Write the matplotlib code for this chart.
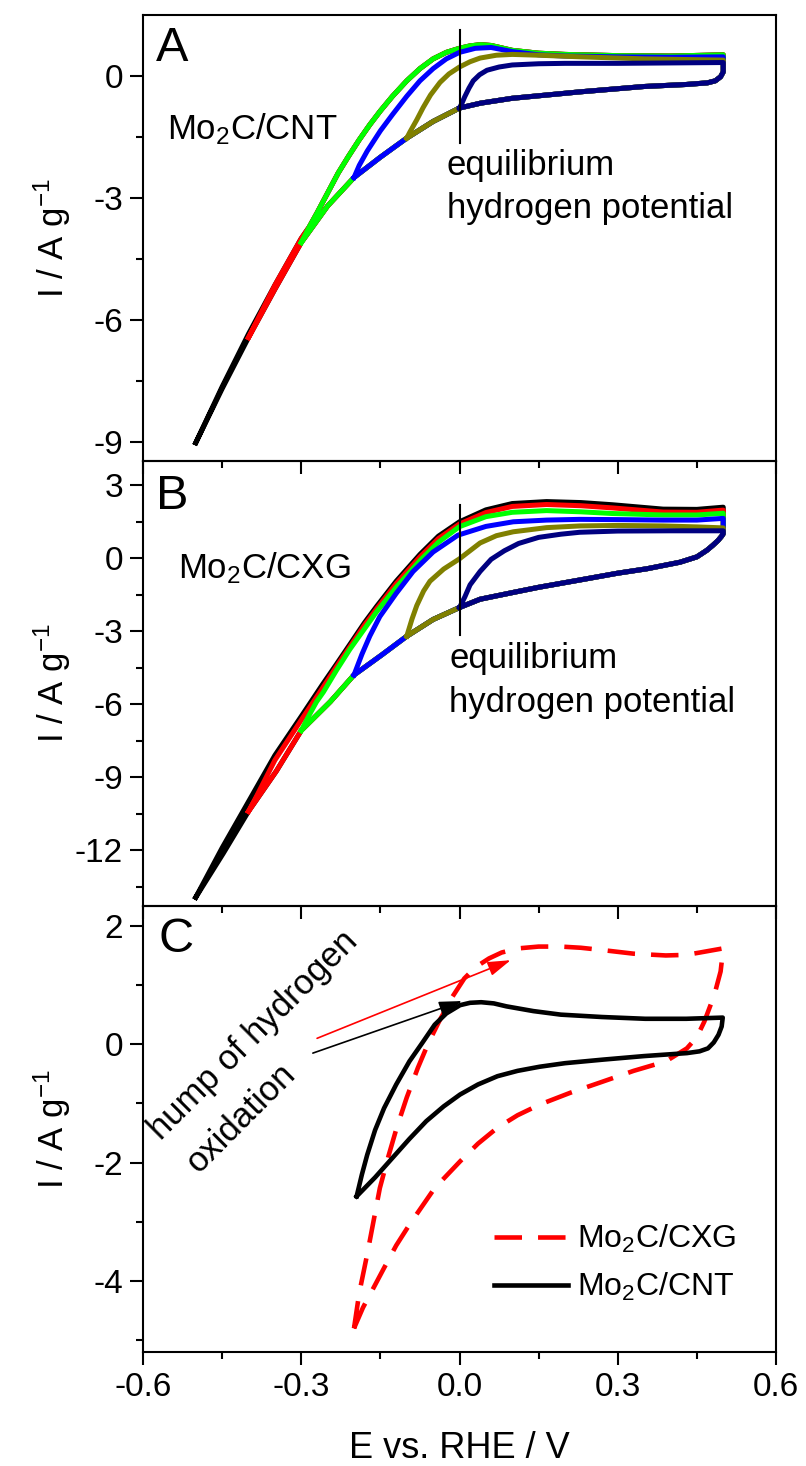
import matplotlib
matplotlib.use("Agg")
import matplotlib.pyplot as plt

plt.rcParams['font.family'] = ['Liberation Sans', 'DejaVu Sans']
plt.rcParams['mathtext.fontset'] = 'custom'
plt.rcParams['mathtext.rm'] = 'Liberation Sans'
plt.rcParams['mathtext.it'] = 'Liberation Sans:italic'
plt.rcParams['mathtext.default'] = 'regular'
plt.rcParams['axes.unicode_minus'] = False

# ---------------- panel A : Mo2C/CNT, CVs with different lower limits ----------------
A_low_E = [0.50, 0.50, 0.495, 0.485, 0.47, 0.43, 0.35, 0.23, 0.10, 0.04, 0.00, -0.05, -0.10,
           -0.15, -0.20, -0.25, -0.30, -0.35, -0.40, -0.45, -0.50]
A_low_I = [0.30, 0.10, -0.02, -0.12, -0.17, -0.21, -0.26, -0.39, -0.55, -0.67, -0.79, -1.12, -1.53,
           -2.0, -2.5, -3.2, -4.1, -5.25, -6.44, -7.7, -9.03]

A_black_E = [-0.50, -0.45, -0.40, -0.35, -0.30, -0.285, -0.27, -0.25, -0.23, -0.21, -0.19, -0.17, -0.15,
             -0.127, -0.10, -0.075, -0.05, -0.025, 0.0, 0.02, 0.04, 0.06, 0.10, 0.15, 0.20, 0.30, 0.40, 0.50]
A_black_I = [-9.03, -7.65, -6.35, -5.15, -4.0, -3.72, -3.37, -2.88, -2.39, -1.97, -1.57, -1.2, -0.86,
             -0.5, -0.12, 0.18, 0.42, 0.58, 0.68, 0.74, 0.77, 0.75, 0.63, 0.56, 0.53, 0.50, 0.49, 0.52]
A_red_E = [-0.40, -0.35, -0.30, -0.285, -0.27, -0.25, -0.23, -0.21, -0.19, -0.17, -0.15,
           -0.127, -0.10, -0.075, -0.05, -0.025, 0.0, 0.02, 0.04, 0.06, 0.10, 0.15, 0.20, 0.30, 0.40, 0.50]
A_red_I = [-6.44, -5.15, -4.0, -3.72, -3.37, -2.88, -2.39, -1.97, -1.57, -1.2, -0.86,
           -0.5, -0.12, 0.18, 0.42, 0.58, 0.68, 0.74, 0.77, 0.75, 0.63, 0.56, 0.53, 0.50, 0.49, 0.52]
A_green_E = [-0.30, -0.285, -0.27, -0.25, -0.23, -0.21, -0.19, -0.17, -0.15,
             -0.127, -0.10, -0.075, -0.05, -0.025, 0.0, 0.02, 0.04, 0.06, 0.10, 0.15, 0.20, 0.30, 0.40, 0.50]
A_green_I = [-4.1, -3.72, -3.37, -2.88, -2.39, -1.97, -1.57, -1.2, -0.86,
             -0.5, -0.12, 0.18, 0.42, 0.58, 0.68, 0.74, 0.77, 0.75, 0.63, 0.56, 0.53, 0.50, 0.49, 0.52]
A_blue_E = [-0.20, -0.19, -0.175, -0.15, -0.127, -0.10, -0.075, -0.05, -0.025, 0.0, 0.03, 0.06,
            0.10, 0.15, 0.20, 0.30, 0.40, 0.50]
A_blue_I = [-2.5, -2.2, -1.85, -1.35, -0.95, -0.5, -0.12, 0.18, 0.42, 0.58, 0.68, 0.70,
            0.60, 0.52, 0.49, 0.47, 0.46, 0.47]
A_olive_E = [-0.10, -0.094, -0.081, -0.069, -0.055, -0.037, -0.02, 0.0, 0.02, 0.039, 0.07, 0.10,
             0.15, 0.23, 0.35, 0.50]
A_olive_I = [-1.53, -1.38, -1.08, -0.78, -0.47, -0.16, 0.05, 0.22, 0.35, 0.44, 0.51, 0.53,
             0.51, 0.47, 0.42, 0.39]
A_navy_E = [0.0, 0.005, 0.01, 0.018, 0.026, 0.038, 0.052, 0.075, 0.10, 0.15, 0.20, 0.30, 0.40, 0.50]
A_navy_I = [-0.79, -0.66, -0.51, -0.30, -0.12, 0.03, 0.14, 0.22, 0.27, 0.30, 0.31, 0.31, 0.32, 0.33]

# ---------------- panel B : Mo2C/CXG ----------------
B_low_E = [0.50, 0.497, 0.49, 0.48, 0.469, 0.45, 0.418, 0.355, 0.30, 0.228, 0.15, 0.102, 0.039, 0.00,
           -0.05, -0.10, -0.147, -0.20, -0.245, -0.30, -0.347, -0.40, -0.448, -0.50]
B_low_I = [1.0, 0.9, 0.72, 0.52, 0.32, 0.05, -0.17, -0.44, -0.62, -0.9, -1.2, -1.41, -1.69, -2.03,
           -2.52, -3.21, -3.97, -4.8, -5.9, -7.08, -8.74, -10.4, -12.13, -13.93]

B_black_E = [-0.50, -0.45, -0.40, -0.35, -0.30, -0.26, -0.233, -0.208, -0.18, -0.157, -0.12, -0.075,
             -0.04, 0.0, 0.05, 0.10, 0.165, 0.23, 0.29, 0.386, 0.45, 0.50]
B_black_I = [-13.93, -11.9, -10.0, -8.1, -6.5, -5.2, -4.35, -3.55, -2.65, -1.98, -0.95, 0.15,
             0.9, 1.49, 1.98, 2.24, 2.32, 2.28, 2.19, 2.01, 2.0, 2.09]
B_red_E = [-0.40, -0.384, -0.35, -0.30, -0.26, -0.233, -0.208, -0.18, -0.157, -0.12, -0.075,
           -0.04, 0.0, 0.05, 0.10, 0.165, 0.23, 0.29, 0.386, 0.45, 0.50]
B_red_I = [-10.4, -9.75, -8.3, -6.65, -5.35, -4.45, -3.65, -2.75, -2.08, -1.05, 0.05,
           0.8, 1.4, 1.87, 2.12, 2.2, 2.15, 2.06, 1.89, 1.88, 1.97]
B_green_E = [-0.30, -0.285, -0.271, -0.258, -0.233, -0.208, -0.18, -0.157, -0.12, -0.075, -0.04,
             0.0, 0.05, 0.10, 0.165, 0.23, 0.29, 0.386, 0.45, 0.50]
B_green_I = [-7.08, -6.45, -5.9, -5.5, -4.6, -3.75, -2.9, -2.2, -1.2, -0.1, 0.65,
             1.29, 1.7, 1.88, 1.95, 1.9, 1.83, 1.77, 1.77, 1.84]
B_blue_E = [-0.20, -0.185, -0.17, -0.151, -0.12, -0.088, -0.05, -0.003, 0.05, 0.102, 0.165, 0.228,
            0.30, 0.386, 0.45, 0.50]
B_blue_I = [-4.8, -3.95, -3.2, -2.4, -1.45, -0.55, 0.25, 0.94, 1.3, 1.49, 1.56, 1.59,
            1.58, 1.56, 1.56, 1.63]
B_olive_E = [-0.10, -0.09, -0.081, -0.068, -0.056, -0.03, 0.0, 0.039, 0.07, 0.102, 0.165, 0.228,
             0.30, 0.386, 0.45, 0.50]
B_olive_I = [-3.21, -2.5, -1.95, -1.35, -0.95, -0.45, -0.03, 0.62, 0.92, 1.08, 1.25, 1.32,
             1.34, 1.32, 1.28, 1.24]
B_navy_E = [0.0, 0.01, 0.02, 0.039, 0.06, 0.085, 0.112, 0.15, 0.192, 0.228, 0.30, 0.40, 0.50]
B_navy_I = [-2.03, -1.6, -1.1, -0.55, -0.05, 0.3, 0.6, 0.85, 0.98, 1.06, 1.11, 1.12, 1.12]

# ---------------- panel C : comparison, lower limit -0.2 V ----------------
C_cxg_E = [-0.20, -0.19, -0.175, -0.151, -0.135, -0.119, -0.10, -0.079, -0.06, -0.039, -0.015, 0.009,
           0.03, 0.056, 0.08, 0.112, 0.15, 0.192, 0.23, 0.272, 0.33, 0.391, 0.43, 0.456, 0.50,
           0.495, 0.483, 0.464, 0.45, 0.431, 0.391, 0.33, 0.272, 0.21, 0.152, 0.11, 0.072, 0.035,
           0.001, -0.047, -0.095, -0.12, -0.143, -0.165, -0.183, -0.20]
C_cxg_I = [-4.8, -4.2, -3.55, -2.43, -1.9, -1.41, -0.9, -0.40, 0.0, 0.38, 0.78, 1.11,
           1.3, 1.45, 1.55, 1.62, 1.65, 1.65, 1.63, 1.59, 1.53, 1.50, 1.51, 1.55, 1.62,
           1.23, 0.83, 0.38, 0.12, -0.07, -0.29, -0.45, -0.63, -0.82, -1.02, -1.2, -1.41, -1.68,
           -1.98, -2.43, -3.05, -3.4, -3.78, -4.15, -4.45, -4.8]
C_cnt_E = [-0.195, -0.185, -0.175, -0.16, -0.143, -0.12, -0.095, -0.07, -0.047, -0.025, 0.001, 0.02,
           0.041, 0.065, 0.089, 0.14, 0.192, 0.27, 0.352, 0.43, 0.499,
           0.497, 0.491, 0.482, 0.471, 0.455, 0.431, 0.35, 0.272, 0.20, 0.152, 0.11, 0.072, 0.035,
           0.001, -0.03, -0.063, -0.095, -0.127, -0.16, -0.195]
C_cnt_I = [-2.57, -2.2, -1.87, -1.45, -1.08, -0.68, -0.29, 0.03, 0.33, 0.52, 0.66, 0.70,
           0.71, 0.69, 0.64, 0.56, 0.50, 0.46, 0.43, 0.43, 0.45,
           0.30, 0.16, 0.03, -0.07, -0.12, -0.15, -0.20, -0.26, -0.32, -0.38, -0.45, -0.54, -0.68,
           -0.85, -1.05, -1.30, -1.6, -1.92, -2.25, -2.57]

cv_colors = ['black', '#ff0000', '#00ff00', '#0000ff', '#808000', '#000080']
lower_limits = [-0.5, -0.4, -0.3, -0.2, -0.1, 0.0]

x_ticks = [-0.6, -0.3, 0.0, 0.3, 0.6]
x_ticklabels = ['-0.6', '-0.3', '0.0', '0.3', '0.6']
x_minor = [-0.45, -0.15, 0.15, 0.45]
A_yticks = [0, -3, -6, -9]
A_yminor = [-1.5, -4.5, -7.5]
B_yticks = [3, 0, -3, -6, -9, -12]
B_yminor = [1.5, -1.5, -4.5, -7.5, -10.5, -13.5]
C_yticks = [2, 0, -2, -4]
C_yminor = [1, -1, -3, -5]

ylab = 'I / A g$^{-1}$'
FS_TICK = 24
FS_TEXT = 25
LW = 3.6

fig = plt.figure(figsize=(8.06, 14.66), dpi=100)
left, width = 143 / 806, 633 / 806
top, bottom = 1 - 15 / 1466, 1 - 1352 / 1466
h = (top - bottom) / 3
axA = fig.add_axes([left, bottom + 2 * h, width, h])
axB = fig.add_axes([left, bottom + h, width, h])
axC = fig.add_axes([left, bottom, width, h])


def style(ax, yt, ym, ylim, show_x):
    ax.patch.set_visible(False)
    ax.set_xlim(-0.6, 0.6)
    ax.set_ylim(*ylim)
    ax.set_xticks(x_ticks)
    ax.set_xticks(x_minor, minor=True)
    ax.set_yticks(yt)
    ax.set_yticklabels([str(v) for v in yt])
    ax.set_yticks(ym, minor=True)
    if show_x:
        ax.set_xticklabels(x_ticklabels)
    else:
        ax.set_xticklabels([])
    ax.tick_params(which='both', direction='out', top=False, right=False, width=1.5,
                   labelsize=FS_TICK, pad=5)
    ax.tick_params(which='major', length=9.5)
    ax.tick_params(which='minor', length=5)
    for s in ax.spines.values():
        s.set_linewidth(1.5)
    ax.set_ylabel(ylab, fontsize=FS_TEXT)
    ax.yaxis.set_label_coords(-0.11, 0.5)


def draw_cvs(ax, low_E, low_I, uppers):
    for (uE, uI), emin, c in zip(uppers, lower_limits, cv_colors):
        lE = [e for e in low_E if e >= emin - 1e-9]
        lI = [i for e, i in zip(low_E, low_I) if e >= emin - 1e-9]
        ax.plot(list(uE) + lE, list(uI) + lI, color=c, lw=LW, solid_joinstyle='round')


# panel A
draw_cvs(axA, A_low_E, A_low_I,
         [(A_black_E, A_black_I), (A_red_E, A_red_I), (A_green_E, A_green_I),
          (A_blue_E, A_blue_I), (A_olive_E, A_olive_I), (A_navy_E, A_navy_I)])
axA.plot([0, 0], [-1.65, 1.13], color='black', lw=1.5)
axA.text(-0.554, -1.57, 'Mo$_2$C/CNT', fontsize=FS_TEXT, ha='left', va='baseline')
axA.text(-0.024, -2.43, 'equilibrium', fontsize=FS_TEXT, ha='left', va='baseline')
axA.text(-0.024, -3.49, 'hydrogen potential', fontsize=FS_TEXT, ha='left', va='baseline')
axA.text(0.02, 0.975, 'A', transform=axA.transAxes, fontsize=35, ha='left', va='top')
style(axA, A_yticks, A_yminor, (-9.47, 1.5), False)

# panel B
draw_cvs(axB, B_low_E, B_low_I,
         [(B_black_E, B_black_I), (B_red_E, B_red_I), (B_green_E, B_green_I),
          (B_blue_E, B_blue_I), (B_olive_E, B_olive_I), (B_navy_E, B_navy_I)])
axB.plot([0, 0], [-3.14, 2.19], color='black', lw=1.5)
axB.text(-0.534, -0.84, 'Mo$_2$C/CXG', fontsize=FS_TEXT, ha='left', va='baseline')
axB.text(-0.019, -4.52, 'equilibrium', fontsize=FS_TEXT, ha='left', va='baseline')
axB.text(-0.019, -6.32, 'hydrogen potential', fontsize=FS_TEXT, ha='left', va='baseline')
axB.text(0.02, 0.97, 'B', transform=axB.transAxes, fontsize=35, ha='left', va='top')
style(axB, B_yticks, B_yminor, (-14.3, 4.0), False)

# panel C
axC.plot(C_cxg_E, C_cxg_I, color='#ff0000', lw=3.3, dashes=(6, 3.5), label='Mo$_2$C/CXG')
axC.plot(C_cnt_E, C_cnt_I, color='black', lw=3.3, solid_joinstyle='round', label='Mo$_2$C/CNT')
axC.annotate('', xy=(0.097, 1.42), xytext=(-0.27, 0.10),
             arrowprops=dict(arrowstyle='-|>,head_length=0.7,head_width=0.22', color='#ff0000',
                             lw=1.2, mutation_scale=20, shrinkA=0, shrinkB=0))
axC.annotate('', xy=(0.005, 0.73), xytext=(-0.278, -0.15),
             arrowprops=dict(arrowstyle='-|>,head_length=0.7,head_width=0.22', color='black',
                             lw=1.2, mutation_scale=20, shrinkA=0, shrinkB=0))
axC.text(-0.566, -1.64, 'hump of hydrogen', fontsize=FS_TEXT, rotation=45,
         rotation_mode='anchor', ha='left', va='baseline')
axC.text(-0.494, -2.2, 'oxidation', fontsize=FS_TEXT, rotation=45,
         rotation_mode='anchor', ha='left', va='baseline')
axC.text(0.025, 0.975, 'C', transform=axC.transAxes, fontsize=35, ha='left', va='top')
axC.legend(loc='upper left', bbox_to_anchor=(0.555, 0.29), frameon=False, fontsize=23,
           handlelength=2.3, handletextpad=0.3, labelspacing=0.5, borderpad=0, borderaxespad=0)
style(axC, C_yticks, C_yminor, (-5.2, 2.33), True)
axC.set_xlabel('E vs. RHE / V', fontsize=26, labelpad=20)

fig.savefig('out.png', dpi=100)
